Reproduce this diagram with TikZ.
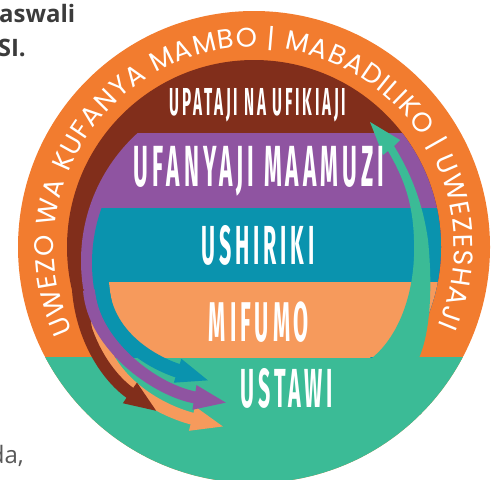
\documentclass[tikz,border=0pt]{standalone}
\usepackage{fontspec}
\usetikzlibrary{calc}
\usetikzlibrary{arrows.meta}
\usetikzlibrary{decorations.text}
\newfontfamily\ringfont{Poppins}
\newfontfamily\bandfont[FakeStretch=0.39,LetterSpace=7]{Fira Sans}
\newfontfamily\pagefont{Open Sans}

\definecolor{ringorange}{HTML}{F27C2F}
\definecolor{accessbrown}{HTML}{812E1B}
\definecolor{decisionpurple}{HTML}{8F54A1}
\definecolor{participationteal}{HTML}{0A93AE}
\definecolor{systemsorange}{HTML}{F69A5C}
\definecolor{wellbeinggreen}{HTML}{3BBB96}
\definecolor{pagegray}{HTML}{3B3B3B}

\begin{document}
\begin{tikzpicture}[x=1pt,y=-1pt,
    bandtext/.style={text=white, inner sep=0pt, font=\bandfont\bfseries\fontsize{#1}{#1}\selectfont},
    pagetext/.style={text=pagegray, inner sep=0pt, font=\pagefont\fontsize{24}{24}\selectfont},
    flow/.style={line width=12pt, -{Triangle[length=34pt,width=22pt]}}]
  \useasboundingbox (0,0) rectangle (497,479);
  \coordinate (c) at (254,247);

  % ring
  \fill[ringorange] (c) circle (236pt);
  \begin{scope}
    \clip (0,357) rectangle (497,479);
    \fill[wellbeinggreen] (c) circle (236pt);
  \end{scope}

  % bands
  \begin{scope}
    \clip (c) circle (187pt);
    \clip (0,0) rectangle (497,357);
    \fill[accessbrown] (0,0) rectangle (497,357);
    \begin{scope}
      \clip (0,133) rectangle (497,357);
      \fill[decisionpurple] (254,261) circle (173pt);
      \fill[decisionpurple] (254,133) rectangle (497,357);
    \end{scope}
    \begin{scope}
      \clip (0,208) rectangle (497,357);
      \fill[participationteal] (254,263) circle (162pt);
      \fill[participationteal] (254,208) rectangle (497,357);
    \end{scope}
    \begin{scope}
      \clip (0,282) rectangle (497,357);
      \fill[systemsorange] (254,270) circle (145.5pt);
      \fill[systemsorange] (254,282) rectangle (497,357);
    \end{scope}
  \end{scope}

  % flows to ustawi
  \draw[flow, systemsorange] (97,320) .. controls (100,372) and (150,408) .. (225,427);
  \draw[flow, accessbrown] (78,290) .. controls (82,340) and (108,378) .. (158,412);
  \draw[flow, decisionpurple] (89,290) .. controls (93,345) and (156,391) .. (228,403);
  \draw[flow, participationteal, line width=14pt] (102,285) .. controls (105,335) and (150,362) .. (210,381);

  % flow back up
  \fill[wellbeinggreen] (372,358) .. controls (400,335) and (416,290) .. (414,240)
    .. controls (413,205) and (405,180) .. (388,151) -- (383,155) -- (370,122)
    -- (400,140) -- (394,146) .. controls (412,175) and (423,205) .. (428,240)
    .. controls (433,290) and (430,335) .. (418,360) -- cycle;

  \node[bandtext=39] (access) at (258,105) {UPATAJI NA UFIKIAJI};
  \node[bandtext=58] (decision) at (259,171.5) {UFANYAJI MAAMUZI};
  \node[bandtext=55] (participation) at (258,245) {USHIRIKI};
  \node[bandtext=56] (systems) at (259,322) {MIFUMO};
  \node[bandtext=55] (wellbeing) at (287,388) {USTAWI};

  \path[decorate, decoration={text along path, text align=fit to path, text color=white,
      text={|\ringfont\fontsize{27}{27}\selectfont|UWEZO WA KUFANYA MAMBO {|} MABADILIKO {|} UWEZESHAJI}}]
    (c) ++(205:200pt) arc[start angle=205, end angle=-23, radius=200pt];

  \node[pagetext, font=\pagefont\bfseries\fontsize{24}{24}\selectfont, anchor=base west] (questions) at (-1,22) {aswali};
  \node[pagetext, font=\pagefont\bfseries\fontsize{24}{24}\selectfont, anchor=base east] (heading) at (26,56) {SI.};
  \node[pagetext, text=pagegray!85, anchor=base east] (fragment) at (24,463) {da,};
\end{tikzpicture}
\end{document}
